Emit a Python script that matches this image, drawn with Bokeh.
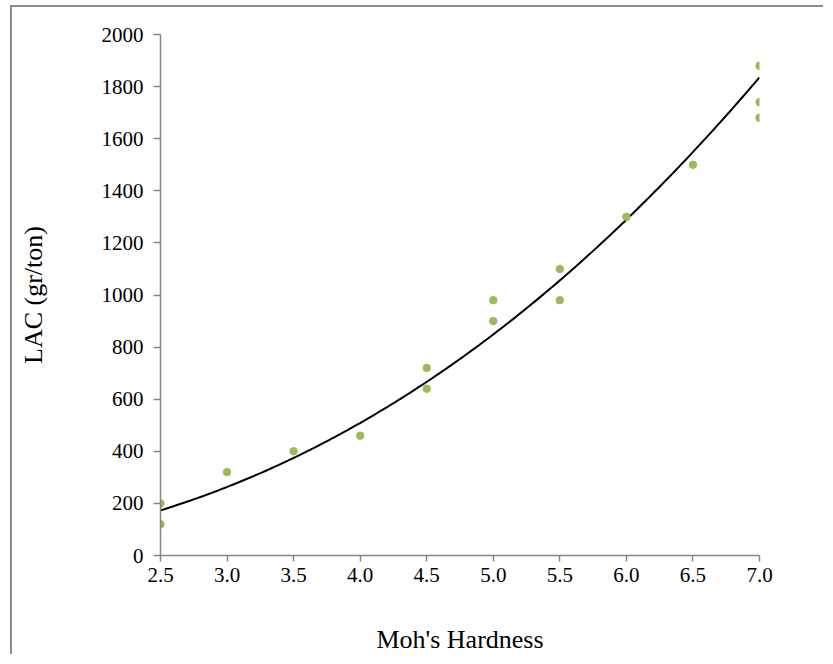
import numpy as np
from bokeh.plotting import figure
from bokeh.models import Range1d, FixedTicker, PrintfTickFormatter
from bokeh.embed import file_html
from bokeh.resources import INLINE

# Data
hardness = [2.5, 2.5, 3.0, 3.5, 4.0, 4.5, 4.5, 5.0, 5.0, 5.5, 5.5, 6.0, 6.5, 7.0, 7.0, 7.0]
lac = [200, 120, 320, 400, 460, 720, 640, 980, 900, 1100, 980, 1300, 1500, 1880, 1740, 1680]
x_ticks = [2.5, 3.0, 3.5, 4.0, 4.5, 5.0, 5.5, 6.0, 6.5, 7.0]
y_ticks = [0, 200, 400, 600, 800, 1000, 1200, 1400, 1600, 1800, 2000]

# Power trendline (least squares in log-log space, as a spreadsheet does)
b, ln_a = np.polyfit(np.log(hardness), np.log(lac), 1)
xs = np.linspace(min(hardness), max(hardness), 200)
ys = np.exp(ln_a) * xs ** b

FONT = "Liberation Serif"

p = figure(width=813, height=649, output_backend="svg", toolbar_location=None,
           x_range=Range1d(2.5, 7.0), y_range=Range1d(0, 2000),
           min_border_left=148, min_border_right=66, min_border_top=27, min_border_bottom=100)
p.margin = (5, 0, 0, 10)
p.styles = {"border-left": "2px solid #8c8c8c", "border-top": "2px solid #8c8c8c"}
p.outline_line_color = None
p.xgrid.visible = False
p.ygrid.visible = False

p.line(xs, ys, line_color="black", line_width=2)
p.scatter(hardness, lac, size=7.5, fill_color="#9BBB59", line_color="#9BBB59")

for ax in (p.xaxis[0], p.yaxis[0]):
    ax.axis_line_color = "#868686"
    ax.axis_line_width = 1.5
    ax.major_tick_line_color = "#868686"
    ax.major_tick_line_width = 1.5
    ax.major_tick_in = 0
    ax.minor_tick_line_color = None
    ax.major_label_text_font = FONT
    ax.major_label_text_font_size = "21px"
    ax.major_label_text_color = "black"
    ax.axis_label_text_font = FONT
    ax.axis_label_text_font_size = "26px"
    ax.axis_label_text_font_style = "normal"
    ax.axis_label_text_color = "black"

p.xaxis.major_tick_out = 6
p.yaxis.major_tick_out = 7
p.xaxis.ticker = FixedTicker(ticks=x_ticks)
p.xaxis.formatter = PrintfTickFormatter(format="%.1f")
p.yaxis.ticker = FixedTicker(ticks=y_ticks)
p.xaxis.axis_label = "Moh's Hardness"
p.yaxis.axis_label = "LAC (gr/ton)"
p.xaxis.major_label_standoff = 6
p.yaxis.major_label_standoff = 10
p.xaxis.axis_label_standoff = 40
p.yaxis.axis_label_standoff = 51

open("out.html", "w").write(file_html(p, INLINE))
